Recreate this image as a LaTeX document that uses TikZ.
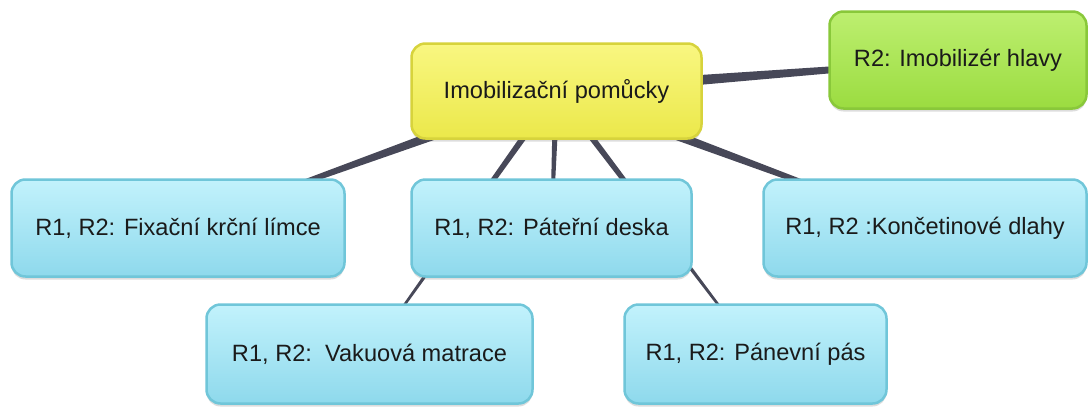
\documentclass[tikz,border=0pt]{standalone}
\usepackage{fontspec}
\setmainfont{Liberation Sans}
\usetikzlibrary{calc,shadows,backgrounds}
\definecolor{conncol}{HTML}{474858}
\definecolor{txtcol}{HTML}{1A1A1A}
\definecolor{bluetop}{HTML}{C2F2FC}
\definecolor{bluebot}{HTML}{8ED9EC}
\definecolor{blueedge}{HTML}{70C6D9}
\definecolor{yeltop}{HTML}{F9F781}
\definecolor{yelbot}{HTML}{EBE84A}
\definecolor{yeledge}{HTML}{D7D33C}
\definecolor{grntop}{HTML}{BDEF70}
\definecolor{grnbot}{HTML}{9BDC40}
\definecolor{grnedge}{HTML}{89C83A}
\newcommand{\taperline}[4]{%
  \fill[conncol] ($(#1)!#3!90:(#2)$) -- ($(#2)!#4!-90:(#1)$) -- ($(#2)!#4!90:(#1)$) -- ($(#1)!#3!-90:(#2)$) -- cycle;}
\tikzset{
  box/.style={rounded corners=14pt, line width=2.5pt, text=txtcol,
    font=\fontsize{23.6}{26}\selectfont, align=center, inner sep=0pt,
    drop shadow={shadow xshift=0pt, shadow yshift=-3pt, opacity=0.22, fill=black!60}},
  bluebox/.style={box, draw=blueedge, top color=bluetop, bottom color=bluebot},
  yelbox/.style={box, draw=yeledge, top color=yeltop, bottom color=yelbot},
  grnbox/.style={box, draw=grnedge, top color=grntop, bottom color=grnbot}
}
\begin{document}
\begin{tikzpicture}[x=1pt,y=-1pt]
\useasboundingbox (0,0) rectangle (1091,407);
\node[yelbox, minimum width=290pt, minimum height=95pt] (main) at (556.5,91) {Imobilizační pomůcky};
\node[grnbox, minimum width=257pt, minimum height=97pt] (head) at (958,60) {R2: Imobilizér hlavy};
\node[bluebox, minimum width=333pt, minimum height=97pt] (collar) at (178,228) {R1, R2: Fixační krční límce};
\node[bluebox, minimum width=280pt, minimum height=97pt] (board) at (551.5,228) {R1, R2: Páteřní deska};
\node[bluebox, minimum width=323pt, minimum height=97pt] (splint) at (925,228) {R1, R2 :Končetinové dlahy};
\node[bluebox, minimum width=326pt, minimum height=99pt] (mattress) at (369.5,354) {R1, R2:\ \ Vakuová matrace};
\node[bluebox, minimum width=262pt, minimum height=99pt] (belt) at (755.5,354) {R1, R2: Pánevní pás};
\begin{scope}[on background layer]
  \fill[white] (0,0) rectangle (1091,407);
  \taperline{main.center}{head.center}{6.5pt}{2pt}
  \taperline{main.center}{collar.center}{6pt}{1pt}
  \taperline{main.center}{splint.center}{6pt}{1pt}
  \taperline{main.center}{board.center}{3.3pt}{1.3pt}
  \taperline{main.center}{mattress.center}{3.5pt}{0.8pt}
  \taperline{main.center}{belt.center}{3.5pt}{0.8pt}
\end{scope}
\end{tikzpicture}
\end{document}
